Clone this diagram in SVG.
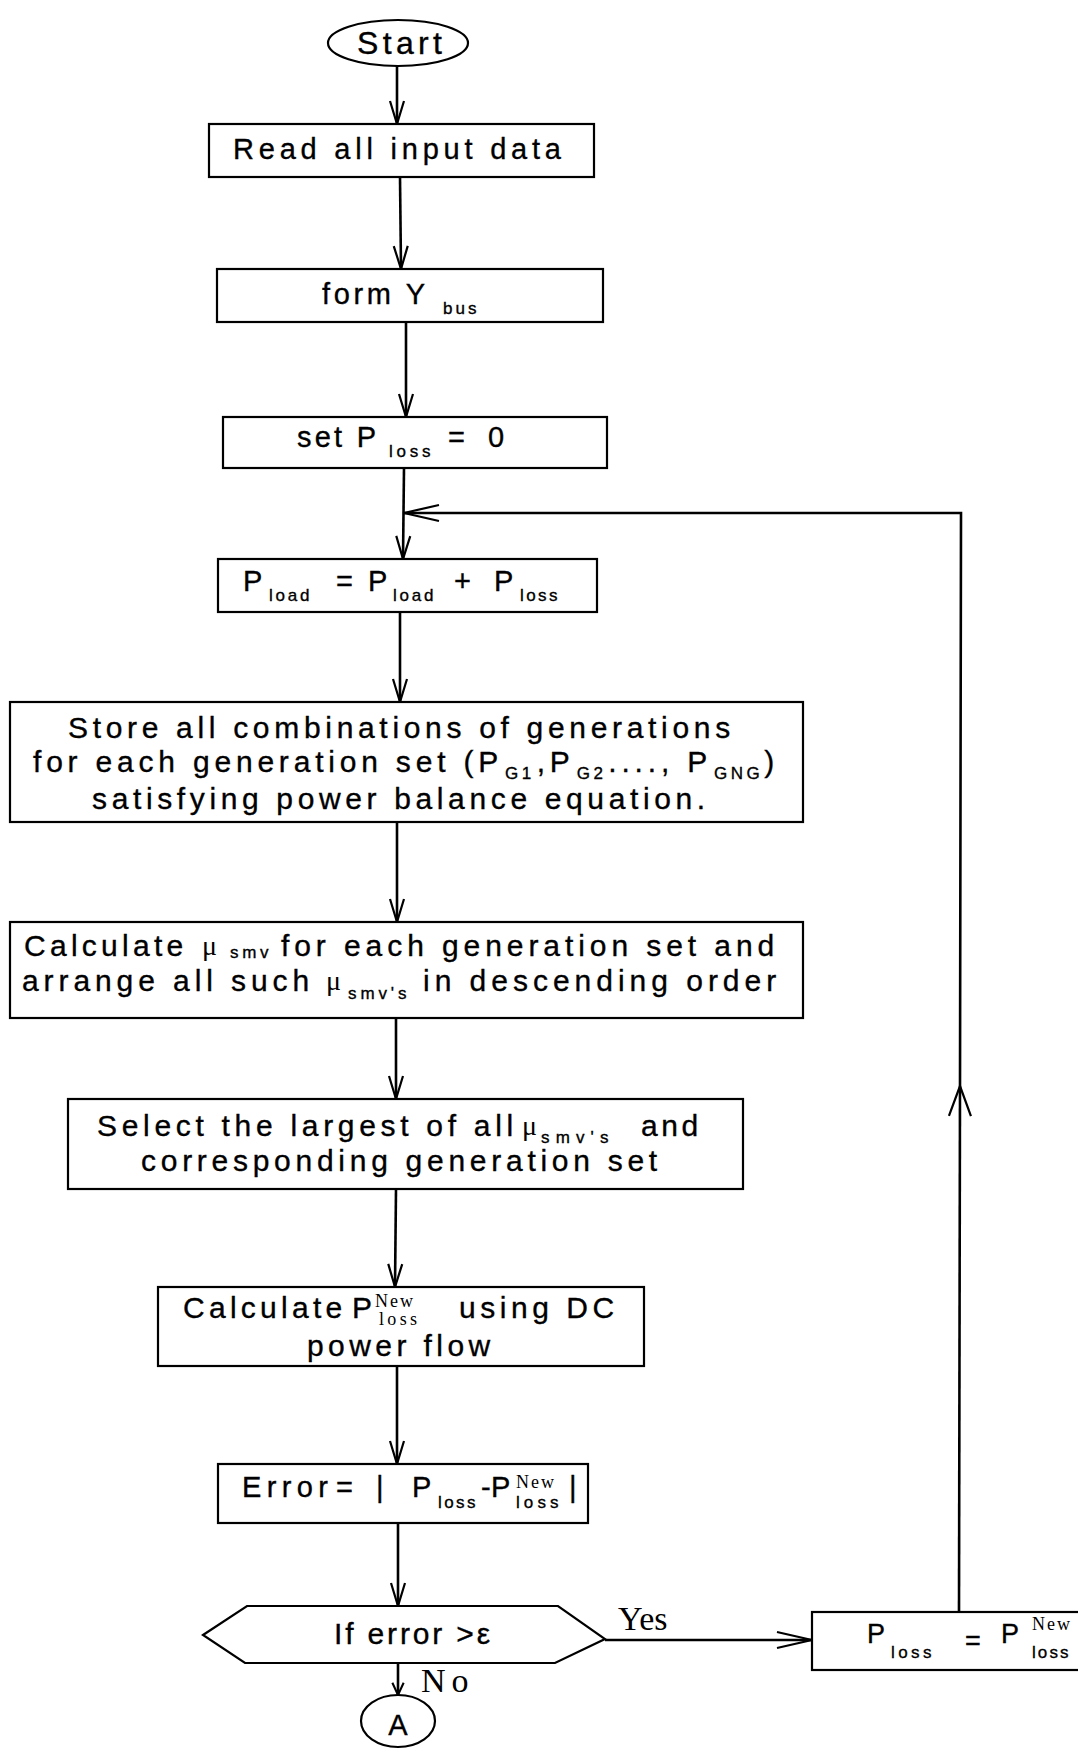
<svg xmlns="http://www.w3.org/2000/svg" width="1078" height="1750" viewBox="0 0 1078 1750">
  <style>
    .box { fill: #fff; stroke: #000; stroke-width: 2.2; }
    .wire { fill: none; stroke: #000; stroke-width: 2.6; }
    .t { font-family: "Liberation Sans", Arial, sans-serif; fill: #000; stroke: #000; stroke-width: 0.35; }
    .top { font-size: 29px; letter-spacing: 5px; }
    .m { font-size: 30px; letter-spacing: 4.8px; }
    .sb { font-size: 17px; letter-spacing: 3.5px; }
    .mu { font-family: "Liberation Serif", "Times New Roman", serif; font-size: 28px; }
    .sv { font-family: "Liberation Serif", "Times New Roman", serif; font-size: 18px; letter-spacing: 2px; fill: #000; }
    .lbl { font-family: "Liberation Serif", "Times New Roman", serif; font-size: 34px; fill: #000; }
    .head { fill: none; stroke: #000; stroke-width: 2.2; }
  </style>
  <defs>
    <marker id="ah" markerUnits="userSpaceOnUse" markerWidth="30" markerHeight="20" viewBox="-26 -10 30 20" refX="0" refY="0" orient="auto" overflow="visible">
      <path class="head" d="M-23,-7 L0,0 L-23,7"/>
    </marker>
    <marker id="ahl" markerUnits="userSpaceOnUse" markerWidth="40" markerHeight="20" viewBox="-38 -10 40 20" refX="0" refY="0" orient="auto" overflow="visible">
      <path class="head" d="M-35,-8 L0,0 L-35,8"/>
    </marker>
    <marker id="ahu" markerUnits="userSpaceOnUse" markerWidth="36" markerHeight="26" viewBox="-34 -13 36 26" refX="0" refY="0" orient="auto" overflow="visible">
      <path class="head" d="M-30,-11 L0,0 L-30,11"/>
    </marker>
    <marker id="ahs" markerUnits="userSpaceOnUse" markerWidth="16" markerHeight="14" viewBox="-15 -7 17 14" refX="0" refY="0" orient="auto" overflow="visible">
      <path class="head" d="M-13,-6 L0,0 L-13,6"/>
    </marker>
  </defs>

  <rect x="0" y="0" width="1078" height="1750" fill="#fff"/>

  <!-- connectors -->
  <g id="connectors">
    <path class="wire" d="M397,66 L397,124" marker-end="url(#ah)"/>
    <path class="wire" d="M400,177 L401,269" marker-end="url(#ah)"/>
    <path class="wire" d="M406,322 L406,417" marker-end="url(#ah)"/>
    <path class="wire" d="M404,468 L403,559" marker-end="url(#ah)"/>
    <path class="wire" d="M400,612 L400,702" marker-end="url(#ah)"/>
    <path class="wire" d="M397,822 L397,922" marker-end="url(#ah)"/>
    <path class="wire" d="M396,1018 L396,1099" marker-end="url(#ah)"/>
    <path class="wire" d="M396,1189 L395,1287" marker-end="url(#ah)"/>
    <path class="wire" d="M397,1366 L397,1464" marker-end="url(#ah)"/>
    <path class="wire" d="M398,1523 L398,1606" marker-end="url(#ah)"/>
    <path class="wire" d="M398,1663 L398,1695" marker-end="url(#ahs)"/>
    <!-- Yes branch -->
    <path class="wire" d="M605,1640 L812,1640" marker-end="url(#ahl)"/>
    <!-- loop back to the load update -->
    <path class="wire" d="M959,1612 L960,1086" marker-end="url(#ahu)"/>
    <path class="wire" d="M960,1086 L961,513 L404,513" marker-end="url(#ahl)"/>
  </g>

  <g id="start">
    <ellipse class="box" cx="398" cy="43" rx="70" ry="23"/>
    <text class="t" x="357" y="54" font-size="32" textLength="85" lengthAdjust="spacing">Start</text>
  </g>

  <g id="read-input">
    <rect class="box" x="209" y="124" width="385" height="53"/>
    <text class="t top" x="233" y="159" textLength="333" lengthAdjust="spacing">Read all input data</text>
  </g>

  <g id="form-ybus">
    <rect class="box" x="217" y="269" width="386" height="53"/>
    <text class="t top" x="322" y="304" textLength="108" lengthAdjust="spacing">form Y</text>
    <text class="t sb" x="443" y="314" font-size="18" textLength="37" lengthAdjust="spacing">bus</text>
  </g>

  <g id="set-ploss">
    <rect class="box" x="223" y="417" width="384" height="51"/>
    <text class="t top" x="297" y="447" textLength="84" lengthAdjust="spacing">set P</text>
    <text class="t sb" x="389" y="457" font-size="18" textLength="45" lengthAdjust="spacing">loss</text>
    <text class="t top" x="448" y="447">=</text>
    <text class="t top" x="488" y="447">0</text>
  </g>

  <g id="update-load">
    <rect class="box" x="218" y="559" width="379" height="53"/>
    <text class="t" x="243" y="591" font-size="29">P</text>
    <text class="t sb" x="269" y="601" font-size="18" textLength="44" lengthAdjust="spacing">load</text>
    <text class="t" x="336" y="591" font-size="29">=</text>
    <text class="t" x="368" y="591" font-size="29">P</text>
    <text class="t sb" x="393" y="601" font-size="18" textLength="44" lengthAdjust="spacing">load</text>
    <text class="t" x="454" y="591" font-size="29">+</text>
    <text class="t" x="494" y="591" font-size="29">P</text>
    <text class="t sb" x="520" y="601" font-size="18" textLength="41" lengthAdjust="spacing">loss</text>
  </g>

  <g id="store-combinations">
    <rect class="box" x="10" y="702" width="793" height="120"/>
    <text class="t m" x="68" y="738" textLength="667" lengthAdjust="spacing">Store all combinations of generations</text>
    <text class="t m" x="33" y="772">for each generation set (P<tspan class="sb" dx="2" dy="7">G1</tspan><tspan dx="2" dy="-7">,P</tspan><tspan class="sb" dx="2" dy="7">G2</tspan><tspan dx="2" dy="-7">...., P</tspan><tspan class="sb" dx="2" dy="7">GNG</tspan><tspan dx="1" dy="-7">)</tspan></text>
    <text class="t m" x="92" y="809" textLength="618" lengthAdjust="spacing">satisfying power balance equation.</text>
  </g>

  <g id="calculate-mu">
    <rect class="box" x="10" y="922" width="793" height="96"/>
    <text class="t m" x="24" y="956" textLength="164" lengthAdjust="spacing">Calculate</text>
    <text class="mu" x="202" y="955">μ</text>
    <text class="t sb" x="230" y="958" textLength="42" lengthAdjust="spacing">smv</text>
    <text class="t m" x="281" y="956" textLength="498" lengthAdjust="spacing">for each generation set and</text>
    <text class="t m" x="22" y="991" textLength="292" lengthAdjust="spacing">arrange all such</text>
    <text class="mu" x="326" y="990">μ</text>
    <text class="t sb" x="348" y="999" textLength="62" lengthAdjust="spacing">smv's</text>
    <text class="t m" x="423" y="991" textLength="358" lengthAdjust="spacing">in descending order</text>
  </g>

  <g id="select-largest">
    <rect class="box" x="68" y="1099" width="675" height="90"/>
    <text class="t m" x="97" y="1136" textLength="421" lengthAdjust="spacing">Select the largest of all</text>
    <text class="mu" x="522" y="1135">μ</text>
    <text class="t sb" x="541" y="1143" textLength="71" lengthAdjust="spacing">smv's</text>
    <text class="t m" x="641" y="1136" textLength="62" lengthAdjust="spacing">and</text>
    <text class="t m" x="141" y="1171" textLength="521" lengthAdjust="spacing">corresponding generation set</text>
  </g>

  <g id="calculate-new-loss">
    <rect class="box" x="158" y="1287" width="486" height="79"/>
    <text class="t m" x="183" y="1318" textLength="164" lengthAdjust="spacing">Calculate</text>
    <text class="t m" x="352" y="1318">P</text>
    <text class="sv" x="375" y="1307" font-size="20">New</text>
    <text class="sv" x="379" y="1325" textLength="40" lengthAdjust="spacing">loss</text>
    <text class="t m" x="459" y="1318" textLength="160" lengthAdjust="spacing">using DC</text>
    <text class="t m" x="307" y="1356" textLength="188" lengthAdjust="spacing">power flow</text>
  </g>

  <g id="error">
    <rect class="box" x="218" y="1464" width="370" height="59"/>
    <text class="t" x="242" y="1497" font-size="29" textLength="86" lengthAdjust="spacing">Error</text>
    <text class="t" x="336" y="1497" font-size="29">=</text>
    <text class="t" x="376" y="1497" font-size="29">|</text>
    <text class="t" x="412" y="1497" font-size="29">P</text>
    <text class="t sb" x="438" y="1508" textLength="41" lengthAdjust="spacing">loss</text>
    <text class="t" x="481" y="1497" font-size="29">-</text>
    <text class="t" x="491" y="1497" font-size="29">P</text>
    <text class="sv" x="516" y="1488">New</text>
    <text class="t sb" x="516" y="1508" textLength="46" lengthAdjust="spacing">loss</text>
    <text class="t" x="569" y="1497" font-size="29">|</text>
  </g>

  <g id="decision">
    <polygon class="box" points="203,1635 247,1606 558,1606 605,1639 555,1663 245,1663"/>
    <text class="t" x="334" y="1644" font-size="30" textLength="156" lengthAdjust="spacing">If error &gt;ε</text>
  </g>

  <g id="labels">
    <text class="lbl" x="618" y="1630">Yes</text>
    <text class="lbl" x="421" y="1692" font-size="36" letter-spacing="6">No</text>
  </g>

  <g id="assign-loss">
    <rect class="box" x="812" y="1612" width="290" height="58"/>
    <text class="t" x="867" y="1643" font-size="27">P</text>
    <text class="t sb" x="891" y="1658" textLength="44" lengthAdjust="spacing">loss</text>
    <text class="t" x="965" y="1650" font-size="27">=</text>
    <text class="t" x="1001" y="1643" font-size="27">P</text>
    <text class="sv" x="1032" y="1630" font-size="19">New</text>
    <text class="t sb" x="1032" y="1658" textLength="40" lengthAdjust="spacing">loss</text>
  </g>

  <g id="connector-a">
    <ellipse class="box" cx="398" cy="1721" rx="37" ry="26"/>
    <text class="t" x="398" y="1735" font-size="29" text-anchor="middle">A</text>
  </g>
</svg>
